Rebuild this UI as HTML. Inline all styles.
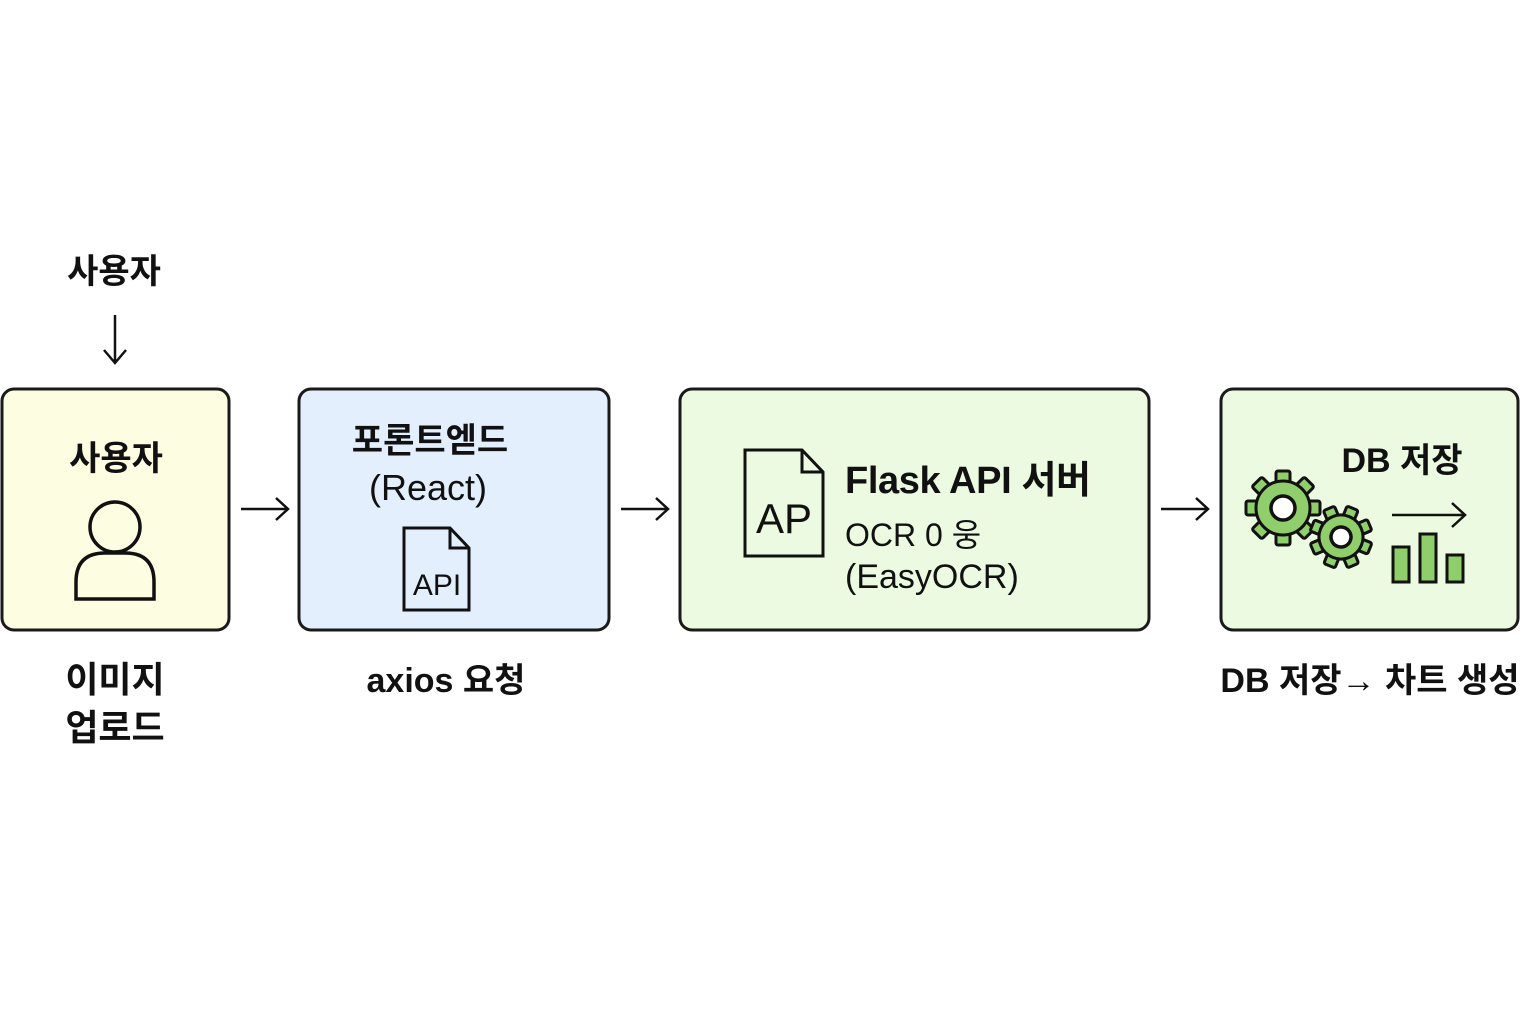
<!DOCTYPE html>
<html><head><meta charset="utf-8"><style>
body{margin:0;width:1536px;height:1024px;background:#fff;overflow:hidden;font-family:"Liberation Sans","Noto Sans CJK KR",sans-serif;}
svg{position:absolute;left:0;top:0}
text{font-family:"Liberation Sans","Noto Sans CJK KR",sans-serif;fill:#111}
</style></head><body>
<svg width="1536" height="1024" viewBox="0 0 1536 1024">
<defs>
<g id="t1"><rect x="-7" y="-37" width="14" height="20" rx="2"/></g>
<g id="t2"><rect x="-6" y="-31" width="12" height="16" rx="2"/></g>
</defs>
<g stroke="#1a1a1a" stroke-width="3">
<rect x="2" y="389" width="227" height="241" rx="12" fill="#fdfde2"/>
<rect x="299" y="389" width="310" height="241" rx="12" fill="#e3effd"/>
<rect x="680" y="389" width="469" height="241" rx="12" fill="#ebfae0"/>
<rect x="1221" y="389" width="297" height="241" rx="12" fill="#ebfae0"/>
</g>
<g stroke="#111" stroke-width="2.5" fill="none">
<path d="M115 315V362M104 350L115 363L126 350"/>
<path d="M241 509H287M276 498L288 509L276 520"/>
<path d="M621 509H667M656 498L668 509L656 520"/>
<path d="M1161 509H1207M1196 498L1208 509L1196 520"/>
<path d="M1392 515H1464M1452 503L1465 515L1452 527"/>
</g>
<text x="114" y="283" font-size="34" font-weight="bold" text-anchor="middle">사용자</text>
<text x="116" y="470" font-size="34" font-weight="bold" text-anchor="middle">사용자</text>
<g stroke="#111" stroke-width="3.5" fill="none">
<circle cx="115" cy="527" r="25"/>
<path d="M76 599V582Q76 553 105 553H125Q154 553 154 582V599Z"/>
</g>
<text x="115" y="692" font-size="36" font-weight="bold" text-anchor="middle">이미지</text>
<text x="115" y="740" font-size="36" font-weight="bold" text-anchor="middle">업로드</text>
<text x="430" y="452" font-size="34" font-weight="bold" text-anchor="middle">포론트엗드</text>
<text x="428" y="500" font-size="36" text-anchor="middle">(React)</text>
<path d="M404 528H450L469 548V610H404Z M450 528V548H469" stroke="#111" stroke-width="3" fill="none"/>
<text x="437" y="595" font-size="30" text-anchor="middle">API</text>
<text x="446" y="692" font-size="34" font-weight="bold" text-anchor="middle">axios 요청</text>
<path d="M745 450H802L823 472V556H745Z M802 450V472H823" stroke="#111" stroke-width="3" fill="none"/>
<text x="784" y="533" font-size="42" text-anchor="middle">AP</text>
<text x="845" y="493" font-size="38" font-weight="bold" textLength="246">Flask API 서버</text>
<text x="845" y="546" font-size="32">OCR 0 웅</text>
<text x="845" y="588" font-size="34">(EasyOCR)</text>
<text x="1402" y="472" font-size="34" font-weight="bold" text-anchor="middle">DB 저장</text>
<g stroke="#111" stroke-width="3" fill="#8fce6a">
<g transform="translate(1283 508)">
<use href="#t1"/><use href="#t1" transform="rotate(45)"/><use href="#t1" transform="rotate(90)"/><use href="#t1" transform="rotate(135)"/>
<use href="#t1" transform="rotate(180)"/><use href="#t1" transform="rotate(225)"/><use href="#t1" transform="rotate(270)"/><use href="#t1" transform="rotate(315)"/>
<circle r="27"/>
<circle r="12" fill="#fff" stroke-width="3.5"/>
</g>
<g transform="translate(1341 537) rotate(22)">
<use href="#t2"/><use href="#t2" transform="rotate(45)"/><use href="#t2" transform="rotate(90)"/><use href="#t2" transform="rotate(135)"/>
<use href="#t2" transform="rotate(180)"/><use href="#t2" transform="rotate(225)"/><use href="#t2" transform="rotate(270)"/><use href="#t2" transform="rotate(315)"/>
<circle r="22"/>
<circle r="10" fill="#fff" stroke-width="3.5"/>
</g>
</g>
<g stroke="#111" stroke-width="3" fill="#8fce6a">
<rect x="1393" y="547" width="16" height="35"/>
<rect x="1420" y="534" width="16" height="48"/>
<rect x="1447" y="555" width="16" height="27"/>
</g>
<text x="1370" y="692" font-size="34" font-weight="bold" text-anchor="middle">DB 저장→ 차트 생성</text>
</svg>
</body></html>
